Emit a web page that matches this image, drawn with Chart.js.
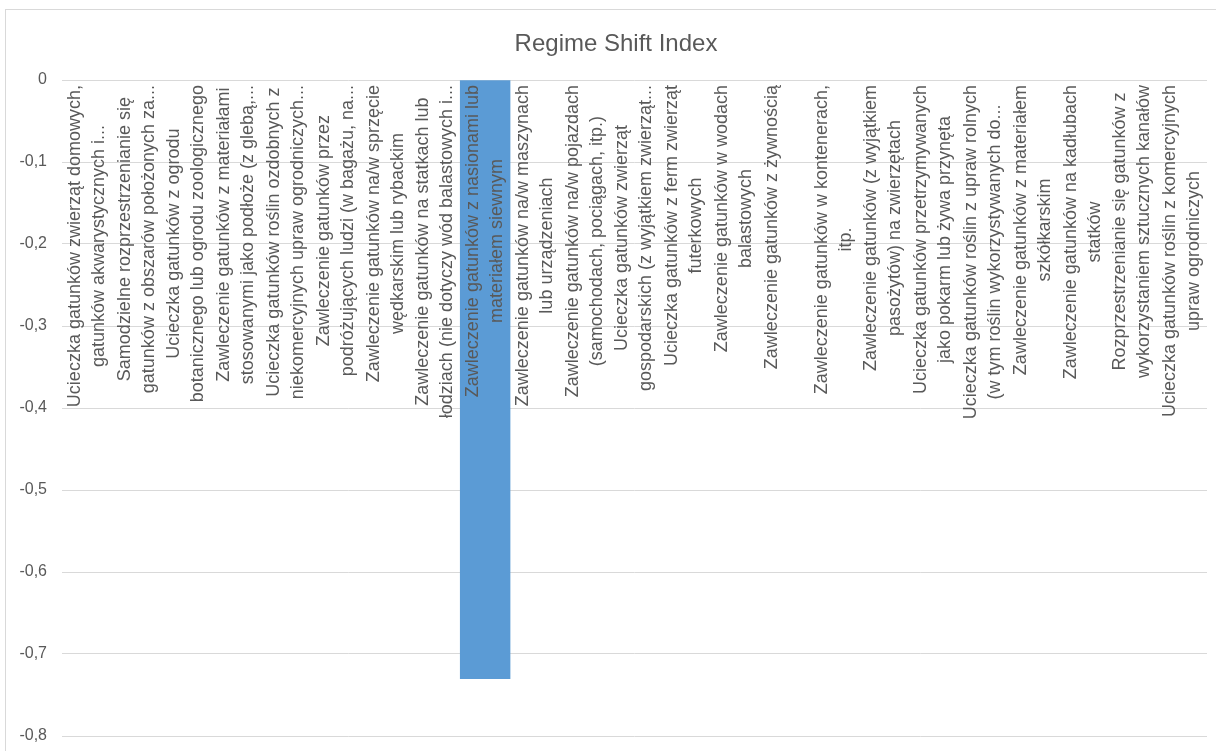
<!DOCTYPE html>
<html>
<head>
<meta charset="utf-8">
<title>Regime Shift Index</title>
<script src="https://cdn.jsdelivr.net/npm/chart.js@4.4.0/dist/chart.umd.min.js"></script>
<style>
  html, body { margin: 0; padding: 0; background: #fff; }
  #wrap { width: 1216px; height: 751px; }
</style>
</head>
<body>
<div id="wrap"><canvas id="chart" width="1216" height="751"></canvas></div>
<script>
// category labels, already wrapped the way the original shows them
const categories = [
  ['Ucieczka gatunków zwierząt domowych,', 'gatunków akwarystycznych i...'],
  ['Samodzielne rozprzestrzenianie się', 'gatunków z obszarów położonych za...'],
  ['Ucieczka gatunków z ogrodu', 'botanicznego lub ogrodu zoologicznego'],
  ['Zawleczenie gatunków z materiałami', 'stosowanymi jako podłoże (z glebą,...'],
  ['Ucieczka gatunków roślin ozdobnych z', 'niekomercyjnych upraw ogrodniczych...'],
  ['Zawleczenie gatunków przez', 'podróżujących ludzi (w bagażu, na...'],
  ['Zawleczenie gatunków na/w sprzęcie', 'wędkarskim lub rybackim'],
  ['Zawleczenie gatunków na statkach lub', 'łodziach (nie dotyczy wód balastowych i...'],
  ['Zawleczenie gatunków z nasionami lub', 'materiałem siewnym'],
  ['Zawleczenie gatunków na/w maszynach', 'lub urządzeniach'],
  ['Zawleczenie gatunków na/w pojazdach', '(samochodach, pociągach, itp.)'],
  ['Ucieczka gatunków zwierząt', 'gospodarskich (z wyjątkiem zwierząt...'],
  ['Ucieczka gatunków z ferm zwierząt', 'futerkowych'],
  ['Zawleczenie gatunków w wodach', 'balastowych'],
  ['Zawleczenie gatunków z żywnością', ''],
  ['Zawleczenie gatunków w kontenerach,', 'itp.'],
  ['Zawleczenie gatunków (z wyjątkiem', 'pasożytów) na zwierzętach'],
  ['Ucieczka gatunków przetrzymywanych', 'jako pokarm lub żywa przynęta'],
  ['Ucieczka gatunków roślin z upraw rolnych', '(w tym roślin wykorzystywanych do...'],
  ['Zawleczenie gatunków z materiałem', 'szkółkarskim'],
  ['Zawleczenie gatunków na kadłubach', 'statków'],
  ['Rozprzestrzenianie się gatunków z', 'wykorzystaniem sztucznych kanałów'],
  ['Ucieczka gatunków roślin z komercyjnych', 'upraw ogrodniczych']
];
// only one category has a visible bar, the rest show nothing
const values = [null, null, null, null, null, null, null, null, -0.73, null, null, null,
                null, null, null, null, null, null, null, null, null, null, null];
const yTickValues = [0, -0.1, -0.2, -0.3, -0.4, -0.5, -0.6, -0.7, -0.8];
const yTickLabels = ['0', '-0,1', '-0,2', '-0,3', '-0,4', '-0,5', '-0,6', '-0,7', '-0,8'];
const chartTitle = 'Regime Shift Index';

const FONT = '"Liberation Sans", Arial, sans-serif';
const TEXT = '#595959';
const GRID = '#d9d9d9';

// white background, light frame and the title (centred on the original's full frame)
const frame = {
  id: 'frame',
  beforeDraw(chart) {
    const ctx = chart.ctx;
    ctx.save();
    ctx.fillStyle = '#fff';
    ctx.fillRect(0, 0, chart.width, chart.height);
    ctx.strokeStyle = GRID;
    ctx.lineWidth = 1;
    ctx.strokeRect(5.5, 9.5, chart.width + 20, chart.height + 20);
    ctx.font = '24px ' + FONT;
    ctx.fillStyle = TEXT;
    ctx.textAlign = 'center';
    ctx.textBaseline = 'alphabetic';
    ctx.fillText(chartTitle, 616, 51);
    ctx.restore();
  }
};

// vertical category labels hanging under the zero line, lines centred in each block
const catLabels = {
  id: 'catLabels',
  afterDatasetsDraw(chart) {
    const {ctx, scales: {x, y}} = chart;
    const y0 = y.getPixelForValue(0);
    ctx.save();
    ctx.font = '18px ' + FONT;
    ctx.fillStyle = TEXT;
    ctx.textAlign = 'center';
    ctx.textBaseline = 'middle';
    categories.forEach((lines, i) => {
      const cx = x.getPixelForValue(i);
      const w = Math.max(...lines.map(l => ctx.measureText(l).width));
      ctx.save();
      ctx.translate(cx, y0 + 5);
      ctx.rotate(-Math.PI / 2);
      lines.forEach((l, k) => {
        ctx.fillText(l, -w / 2, (k - (lines.length - 1) / 2) * 24);
      });
      ctx.restore();
    });
    ctx.restore();
  }
};

new Chart(document.getElementById('chart'), {
  type: 'bar',
  data: {
    labels: categories,
    datasets: [{
      label: chartTitle,
      data: values,
      backgroundColor: '#5b9bd5',
      borderWidth: 0,
      barPercentage: 1,
      categoryPercentage: 1
    }]
  },
  options: {
    responsive: false,
    animation: false,
    devicePixelRatio: 1,
    layout: { padding: { left: 0, right: 9, top: 80, bottom: 15 } },
    plugins: {
      legend: { display: false },
      tooltip: { enabled: false },
      title: { display: false }
    },
    scales: {
      x: { display: false },
      y: {
        min: -0.8,
        max: 0,
        afterBuildTicks(scale) { scale.ticks = yTickValues.map(v => ({value: v})); },
        afterFit(scale) {
          scale.width = 62;
          scale.paddingTop = 0;
          scale.paddingBottom = 0;
        },
        ticks: {
          color: TEXT,
          font: { family: FONT, size: 16 },
          padding: 15,
          callback: (v, i) => yTickLabels[i]
        },
        grid: { color: GRID, lineWidth: 1, drawTicks: false },
        border: { display: false }
      }
    }
  },
  plugins: [frame, catLabels]
});
</script>
</body>
</html>
